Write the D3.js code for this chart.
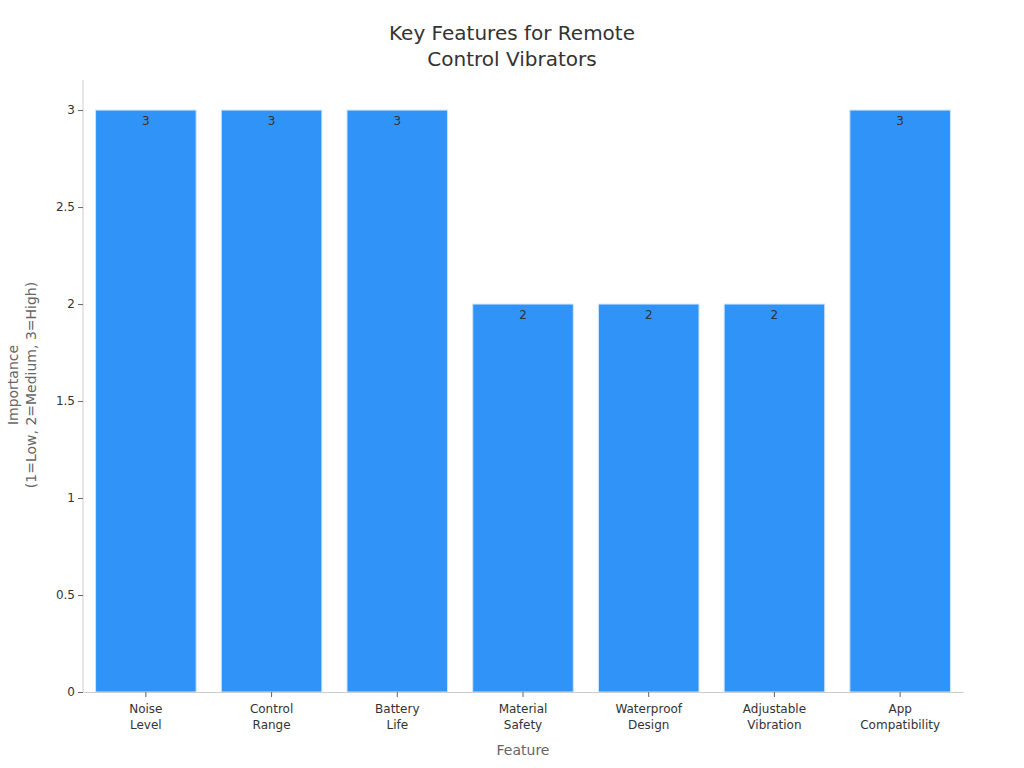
<!DOCTYPE html>
<html>
<head>
<meta charset="utf-8">
<script src="https://cdn.jsdelivr.net/npm/d3@7"></script>
<style>
  body { margin: 0; background: #fff; }
  svg { font-family: "DejaVu Sans", sans-serif; }
</style>
</head>
<body>
<div id="chart-area"></div>
<script>
const features = [
  ['Noise', 'Level'],
  ['Control', 'Range'],
  ['Battery', 'Life'],
  ['Material', 'Safety'],
  ['Waterproof', 'Design'],
  ['Adjustable', 'Vibration'],
  ['App', 'Compatibility']
];
const importance = [3, 3, 3, 2, 2, 2, 3];
const yTicks = [0, 0.5, 1, 1.5, 2, 2.5, 3];

const MARGIN = { LEFT: 83, RIGHT: 61, TOP: 80, BOTTOM: 76 };
const WIDTH = 1024 - MARGIN.LEFT - MARGIN.RIGHT;
const HEIGHT = 768 - MARGIN.TOP - MARGIN.BOTTOM;

const data = features.map((f, i) => ({ key: f.join(' '), lines: f, value: importance[i] }));

const x = d3.scaleBand()
  .domain(data.map(d => d.key))
  .range([0, WIDTH])
  .paddingInner(0.2)
  .paddingOuter(0.1);

const y = d3.scaleLinear()
  .domain([0, 3.155])
  .range([HEIGHT, 0]);

const svg = d3.select('#chart-area').append('svg')
  .attr('width', 1024)
  .attr('height', 768);

// title
svg.append('text')
  .attr('x', 512)
  .attr('y', 40)
  .attr('text-anchor', 'middle')
  .attr('font-size', 20)
  .attr('fill', '#333')
  .selectAll('tspan')
  .data(['Key Features for Remote', 'Control Vibrators'])
  .enter().append('tspan')
  .attr('x', 512)
  .attr('dy', (d, i) => i === 0 ? 0 : 26)
  .text(d => d);

const g = svg.append('g')
  .attr('transform', `translate(${MARGIN.LEFT}, ${MARGIN.TOP})`);

// bars
g.selectAll('rect').data(data).enter().append('rect')
  .attr('x', d => x(d.key))
  .attr('y', d => y(d.value))
  .attr('width', x.bandwidth())
  .attr('height', d => HEIGHT - y(d.value))
  .attr('fill', '#2f93f7')
  .attr('stroke', '#cfe6fb')
  .attr('stroke-width', 1);

// value labels
g.selectAll('.val').data(data).enter().append('text')
  .attr('class', 'val')
  .attr('x', d => x(d.key) + x.bandwidth() / 2)
  .attr('y', d => y(d.value) + 15)
  .attr('text-anchor', 'middle')
  .attr('font-size', 12)
  .attr('fill', '#333')
  .text(d => d.value);

// y axis
const yAxis = g.append('g')
  .call(d3.axisLeft(y).tickValues(yTicks).tickSize(5).tickPadding(3).tickFormat(d3.format('')));
yAxis.select('.domain').attr('stroke', '#ccc').attr('d', `M0,${HEIGHT}V0`);
yAxis.selectAll('.tick line').attr('stroke', '#666');
yAxis.selectAll('.tick text').attr('font-size', 12).attr('fill', '#333')
  .attr('font-family', '"DejaVu Sans", sans-serif');

// x axis
const xAxis = g.append('g')
  .attr('transform', `translate(0, ${HEIGHT})`)
  .call(d3.axisBottom(x).tickSize(5).tickSizeOuter(0).tickFormat(''));
xAxis.select('.domain').attr('stroke', '#ccc');
xAxis.selectAll('.tick line').attr('stroke', '#666');
xAxis.selectAll('.tick').each(function (d) {
  const item = data.find(e => e.key === d);
  const t = d3.select(this).append('text')
    .attr('fill', '#333')
    .attr('font-size', 12)
    .attr('text-anchor', 'middle')
    .attr('font-family', '"DejaVu Sans", sans-serif');
  item.lines.forEach((line, i) => {
    t.append('tspan').attr('x', 0).attr('y', 21 + i * 16).text(line);
  });
});

// axis titles
svg.append('text')
  .attr('x', MARGIN.LEFT + WIDTH / 2)
  .attr('y', 755)
  .attr('text-anchor', 'middle')
  .attr('font-size', 14)
  .attr('fill', '#666')
  .text('Feature');

const yTitle = svg.append('text')
  .attr('transform', 'translate(0, 385) rotate(-90)')
  .attr('text-anchor', 'middle')
  .attr('font-size', 14)
  .attr('fill', '#666');
['Importance', '(1=Low, 2=Medium, 3=High)'].forEach((line, i) => {
  yTitle.append('tspan').attr('x', 0).attr('y', 18 + i * 18).text(line);
});
</script>
</body>
</html>
